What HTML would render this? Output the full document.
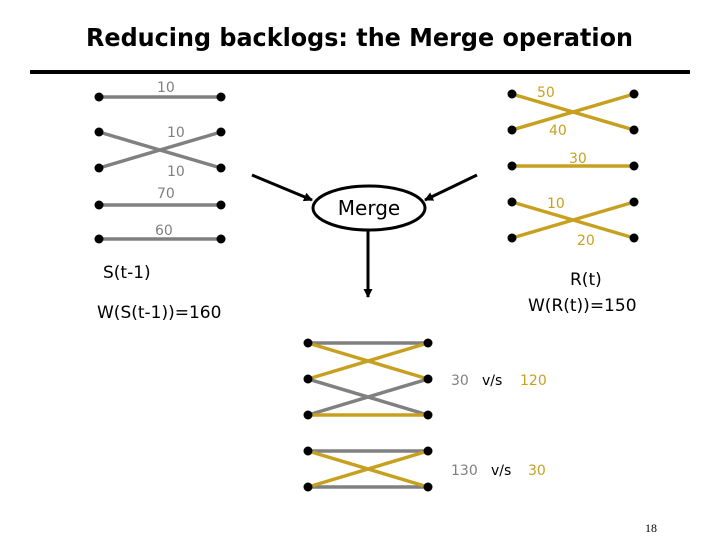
<!DOCTYPE html>
<html><head><meta charset="utf-8"><style>
body{margin:0;background:#fff;}
svg{display:block;font-family:"DejaVu Sans","Liberation Sans",sans-serif;}
</style></head><body>
<svg width="720" height="540" viewBox="0 0 720 540" xmlns="http://www.w3.org/2000/svg">
<defs><marker id="ah" markerWidth="9" markerHeight="9" refX="8" refY="4.5" orient="auto" markerUnits="userSpaceOnUse"><path d="M0,0 L9,4.5 L0,9 z" fill="#000"/></marker></defs>
<text x="86" y="46" font-size="25" font-weight="bold" fill="#000" textLength="547" lengthAdjust="spacingAndGlyphs">Reducing backlogs: the Merge operation</text>
<rect x="30" y="70" width="660" height="4" fill="#000"/>
<g stroke-width="3.5" fill="none">
<line x1="99" y1="97" x2="221" y2="97" stroke="#808080"/>
<line x1="99" y1="132" x2="221" y2="168" stroke="#808080"/>
<line x1="99" y1="168" x2="221" y2="132" stroke="#808080"/>
<line x1="99" y1="205" x2="221" y2="205" stroke="#808080"/>
<line x1="99" y1="239" x2="221" y2="239" stroke="#808080"/>
<line x1="512" y1="94" x2="634" y2="130" stroke="#c8a020"/>
<line x1="512" y1="130" x2="634" y2="94" stroke="#c8a020"/>
<line x1="512" y1="166" x2="634" y2="166" stroke="#c8a020"/>
<line x1="512" y1="202" x2="634" y2="238" stroke="#c8a020"/>
<line x1="512" y1="238" x2="634" y2="202" stroke="#c8a020"/>
<line x1="308" y1="343" x2="428" y2="343" stroke="#808080"/>
<line x1="308" y1="343" x2="428" y2="379" stroke="#c8a020"/>
<line x1="308" y1="379" x2="428" y2="343" stroke="#c8a020"/>
<line x1="308" y1="379" x2="428" y2="415" stroke="#808080"/>
<line x1="308" y1="415" x2="428" y2="379" stroke="#808080"/>
<line x1="308" y1="415" x2="428" y2="415" stroke="#c8a020"/>
<line x1="308" y1="451" x2="428" y2="451" stroke="#808080"/>
<line x1="308" y1="487" x2="428" y2="487" stroke="#808080"/>
<line x1="308" y1="451" x2="428" y2="487" stroke="#c8a020"/>
<line x1="308" y1="487" x2="428" y2="451" stroke="#c8a020"/>
</g>
<g fill="#000">
<circle cx="99" cy="97" r="4.5"/><circle cx="221" cy="97" r="4.5"/>
<circle cx="99" cy="132" r="4.5"/><circle cx="221" cy="132" r="4.5"/>
<circle cx="99" cy="168" r="4.5"/><circle cx="221" cy="168" r="4.5"/>
<circle cx="99" cy="205" r="4.5"/><circle cx="221" cy="205" r="4.5"/>
<circle cx="99" cy="239" r="4.5"/><circle cx="221" cy="239" r="4.5"/>
<circle cx="512" cy="94" r="4.5"/><circle cx="634" cy="94" r="4.5"/>
<circle cx="512" cy="130" r="4.5"/><circle cx="634" cy="130" r="4.5"/>
<circle cx="512" cy="166" r="4.5"/><circle cx="634" cy="166" r="4.5"/>
<circle cx="512" cy="202" r="4.5"/><circle cx="634" cy="202" r="4.5"/>
<circle cx="512" cy="238" r="4.5"/><circle cx="634" cy="238" r="4.5"/>
<circle cx="308" cy="343" r="4.5"/><circle cx="428" cy="343" r="4.5"/>
<circle cx="308" cy="379" r="4.5"/><circle cx="428" cy="379" r="4.5"/>
<circle cx="308" cy="415" r="4.5"/><circle cx="428" cy="415" r="4.5"/>
<circle cx="308" cy="451" r="4.5"/><circle cx="428" cy="451" r="4.5"/>
<circle cx="308" cy="487" r="4.5"/><circle cx="428" cy="487" r="4.5"/>
</g>
<g font-size="14" fill="#808080">
<text x="157" y="92">10</text>
<text x="167" y="137">10</text>
<text x="167" y="176">10</text>
<text x="157" y="198">70</text>
<text x="155" y="235">60</text>
</g>
<g font-size="14" fill="#c8a020">
<text x="537" y="97">50</text>
<text x="549" y="135">40</text>
<text x="569" y="163">30</text>
<text x="547" y="208">10</text>
<text x="577" y="245">20</text>
</g>
<ellipse cx="369" cy="208" rx="56" ry="22" fill="none" stroke="#000" stroke-width="3"/>
<text x="369" y="215" text-anchor="middle" font-size="20" fill="#000">Merge</text>
<g stroke="#000" stroke-width="3" marker-end="url(#ah)">
<line x1="252" y1="175" x2="312" y2="200"/>
<line x1="477" y1="175" x2="425" y2="200"/>
<line x1="368" y1="231" x2="368" y2="297"/>
</g>
<g font-size="17" fill="#000">
<text x="103" y="278">S(t-1)</text>
<text x="97" y="318">W(S(t-1))=160</text>
<text x="570" y="285">R(t)</text>
<text x="528" y="311">W(R(t))=150</text>
</g>
<g font-size="14">
<text x="451" y="385" fill="#808080">30</text><text x="482" y="385" fill="#000">v/s</text><text x="520" y="385" fill="#c8a020">120</text>
<text x="451" y="475" fill="#808080">130</text><text x="491" y="475" fill="#000">v/s</text><text x="528" y="475" fill="#c8a020">30</text>
</g>
<text x="645" y="532" font-size="12" font-family="Liberation Serif,serif" fill="#000">18</text>
</svg>
</body></html>
